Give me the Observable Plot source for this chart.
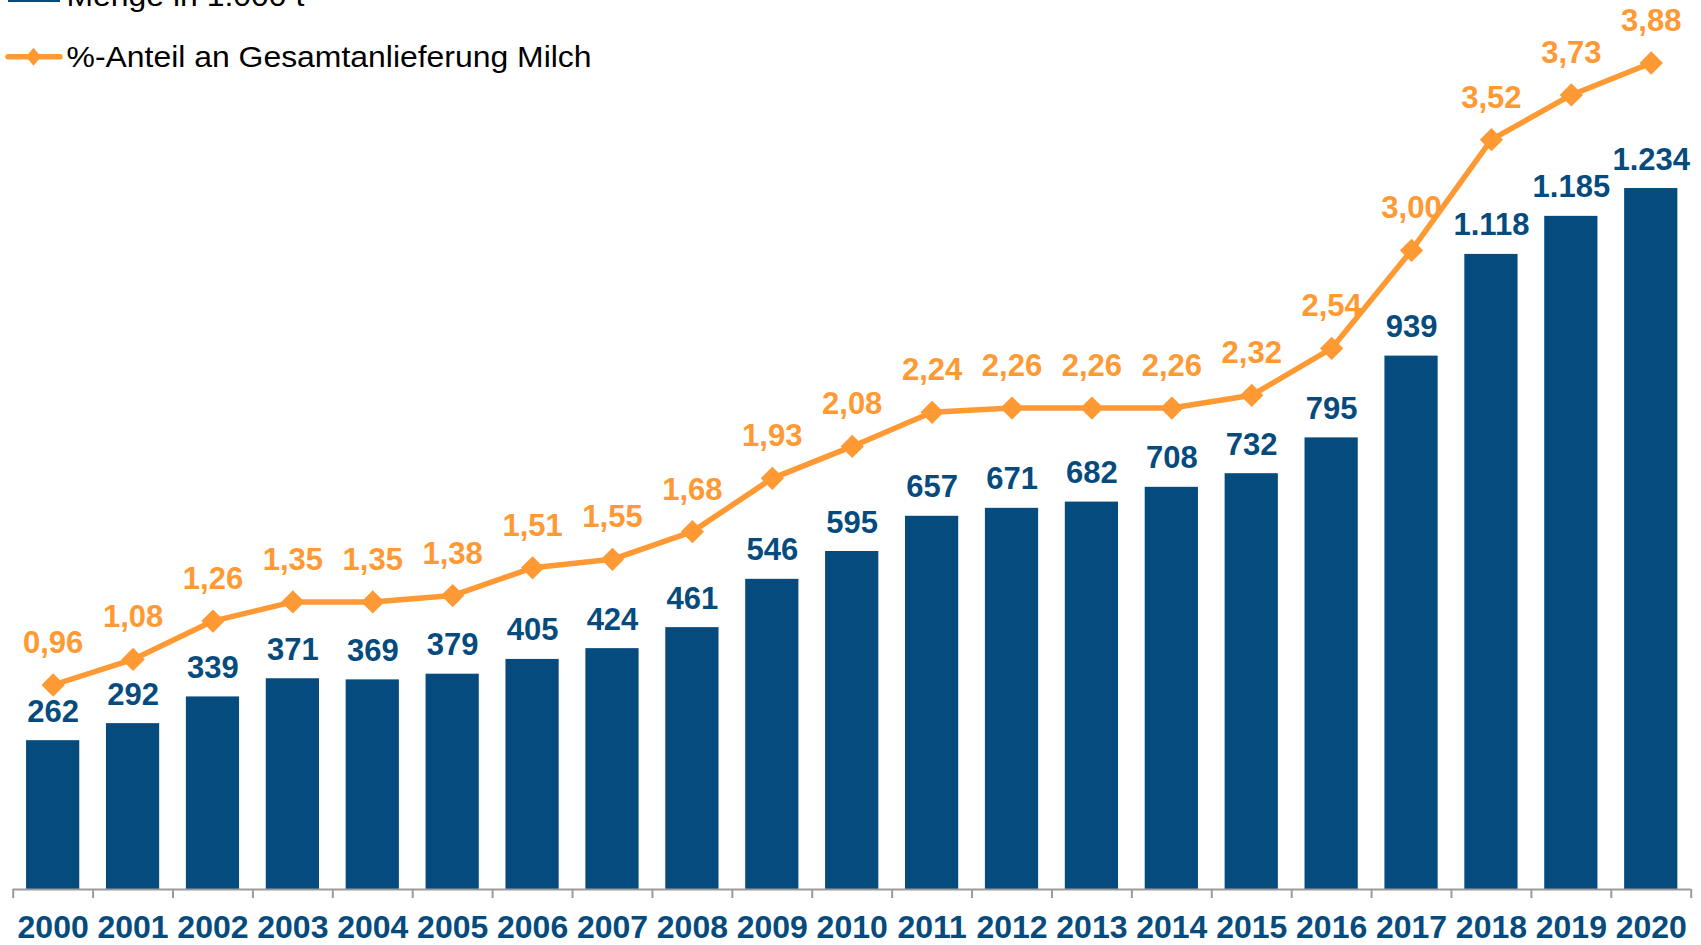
<!DOCTYPE html>
<html>
<head>
<meta charset="utf-8">
<script src="https://cdn.jsdelivr.net/npm/d3@7"></script>
<script src="https://cdn.jsdelivr.net/npm/@observablehq/plot@0.6"></script>
<style>
  html, body { margin: 0; padding: 0; background: #fff; overflow: hidden; }
  #wrap { position: relative; width: 1701px; height: 945px; overflow: hidden; font-family: "Liberation Sans", Arial, sans-serif; }
  #legend { position: absolute; left: 0; top: 0; overflow: visible; }
  #chart { position: absolute; left: 0; top: 0; }
</style>
</head>
<body>
<div id="wrap"><div id="chart"></div></div>
<script>
// ---- data ----
const years = [2000, 2001, 2002, 2003, 2004, 2005, 2006, 2007, 2008, 2009, 2010,
               2011, 2012, 2013, 2014, 2015, 2016, 2017, 2018, 2019, 2020];
const menge = [262, 292, 339, 371, 369, 379, 405, 424, 461, 546, 595,
               657, 671, 682, 708, 732, 795, 939, 1118, 1185, 1234];
const anteil = [0.96, 1.08, 1.26, 1.35, 1.35, 1.38, 1.51, 1.55, 1.68, 1.93, 2.08,
                2.24, 2.26, 2.26, 2.26, 2.32, 2.54, 3.00, 3.52, 3.73, 3.88];
const legendLabels = ["Menge in 1.000 t", "%-Anteil an Gesamtanlieferung Milch"];

// ---- styling ----
const blue = "#054B7D", orange = "#FF9933", gray = "#9B9B9B";
const font = "'Liberation Sans', Arial, Helvetica, sans-serif";
const shareToAxis = 375; // secondary axis: 1 %-point drawn as this many bar units

const data = years.map((year, i) => ({year, menge: menge[i], anteil: anteil[i]}));
const edges = years.map(y => y - 0.5).concat([years[years.length - 1] + 0.5]);
const de = d3.formatLocale({decimal: ",", thousands: ".", grouping: [3], currency: ["", " €"]});
const fmtMenge = de.format(",d");
const fmtPct = de.format(".2f");
const shareY = d => d.anteil * shareToAxis;

const chart = Plot.plot({
  width: 1701,
  height: 945,
  marginTop: 0,
  marginBottom: 56,
  marginLeft: 12.7,
  marginRight: 10.3,
  x: {type: "linear", domain: [years[0] - 0.5, years[years.length - 1] + 0.5], axis: null, label: null},
  y: {domain: [0, 1565], axis: null, label: null},
  style: {fontFamily: font, background: "transparent", overflow: "visible"},
  marks: [
    Plot.rectY(data, {x1: d => d.year - 0.333, x2: d => d.year + 0.333, y1: 0, y2: "menge", fill: blue}),
    Plot.ruleY([0], {stroke: gray, strokeWidth: 2}),
    Plot.axisX({ticks: edges, tickSize: 9, tickFormat: () => "", label: null,
                stroke: gray, strokeWidth: 2, strokeOpacity: 1}),
    Plot.axisX({ticks: years, tickSize: 0, tickPadding: 26, tickFormat: d => String(d), label: null,
                fontSize: 32, fontWeight: "bold", fill: blue}),
    Plot.text(data, {x: "year", y: "menge", text: d => fmtMenge(d.menge), dy: -19, lineAnchor: "bottom",
                     fontSize: 31, fontWeight: "bold", fill: blue}),
    Plot.text(data, {x: "year", y: shareY, text: d => fmtPct(d.anteil), dy: -32, lineAnchor: "bottom",
                     fontSize: 31, fontWeight: "bold", fill: orange}),
    Plot.line(data, {x: "year", y: shareY, stroke: orange, strokeWidth: 5.5, strokeLinejoin: "round"}),
    Plot.dot(data, {x: "year", y: shareY, symbol: "diamond2", r: 10.5, fill: orange, stroke: "none"})
  ]
});
document.getElementById("chart").appendChild(chart);

// ---- legend (overlaid top-left, first row cropped like the original) ----
const svgNS = "http://www.w3.org/2000/svg";
const lg = document.createElementNS(svgNS, "svg");
lg.setAttribute("id", "legend");
lg.setAttribute("width", "700");
lg.setAttribute("height", "90");
lg.innerHTML = `
  <rect x="8" y="-20" width="52" height="22" fill="${blue}"></rect>
  <g transform="translate(66.5,6) scale(1.064,1)">
    <text x="0" y="0" font-family="${font}" font-size="30" fill="#000">${legendLabels[0]}</text>
  </g>
  <line x1="8" y1="56.7" x2="60" y2="56.7" stroke="${orange}" stroke-width="5.5" stroke-linecap="round"></line>
  <path d="M33.5,47.7 L41,56.7 L33.5,65.7 L26,56.7 Z" fill="${orange}"></path>
  <g transform="translate(66.5,66.7) scale(1.064,1)">
    <text x="0" y="0" font-family="${font}" font-size="30" fill="#000">${legendLabels[1]}</text>
  </g>
`;
document.getElementById("wrap").appendChild(lg);
</script>
</body>
</html>
